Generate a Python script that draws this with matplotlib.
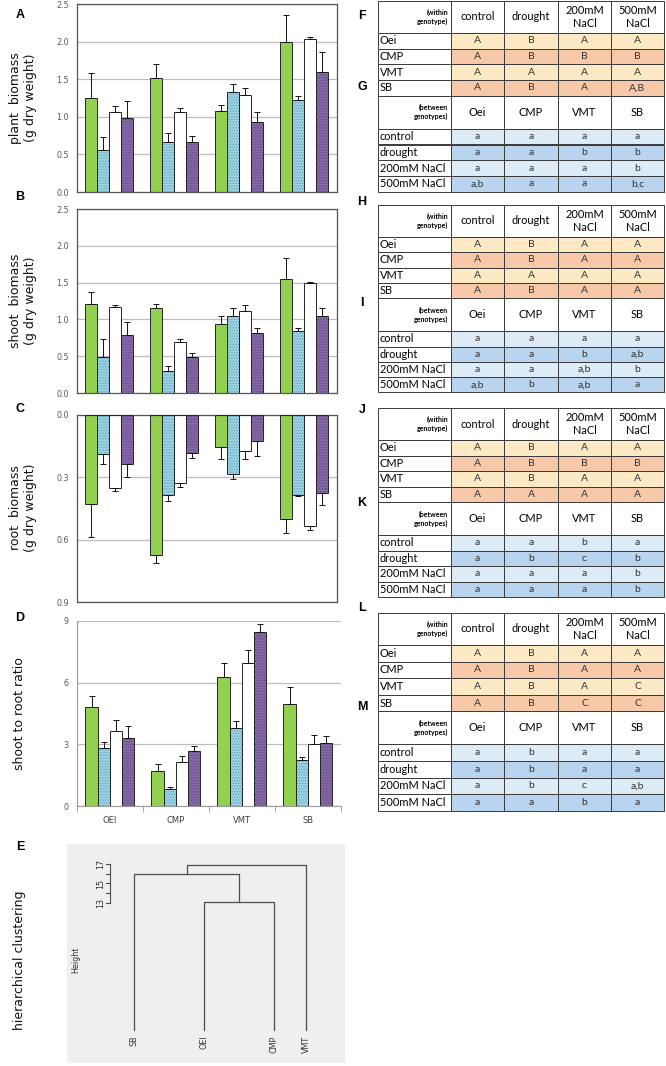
import numpy as np
import matplotlib
matplotlib.use("Agg")
import matplotlib.pyplot as plt
from matplotlib.patches import Rectangle

W, H = 666, 1066

genotypes = ["OEI", "CMP", "VMT", "SB"]
treatments = ["control", "drought", "200mM NaCl", "500mM NaCl"]

# rows = treatment (control, drought, 200mM, 500mM), cols = genotype
plant_mean = [[1.25, 1.52, 1.08, 2.00],
              [0.56, 0.67, 1.33, 1.23],
              [1.06, 1.07, 1.29, 2.03],
              [0.99, 0.67, 0.93, 1.60]]
plant_err = [[0.33, 0.18, 0.08, 0.35],
             [0.17, 0.11, 0.11, 0.04],
             [0.08, 0.05, 0.09, 0.03],
             [0.22, 0.07, 0.13, 0.26]]

shoot_mean = [[1.21, 1.16, 0.94, 1.55],
              [0.49, 0.30, 1.05, 0.84],
              [1.17, 0.69, 1.11, 1.49],
              [0.79, 0.49, 0.82, 1.05]]
shoot_err = [[0.16, 0.05, 0.10, 0.28],
             [0.25, 0.07, 0.10, 0.04],
             [0.03, 0.04, 0.08, 0.02],
             [0.17, 0.06, 0.06, 0.11]]

root_mean = [[0.430, 0.675, 0.152, 0.500],
             [0.189, 0.387, 0.283, 0.384],
             [0.352, 0.328, 0.173, 0.536],
             [0.235, 0.182, 0.123, 0.373]]
root_err = [[0.155, 0.037, 0.058, 0.070],
            [0.049, 0.026, 0.026, 0.005],
            [0.016, 0.019, 0.037, 0.016],
            [0.061, 0.026, 0.075, 0.062]]

ratio_mean = [[4.81, 1.69, 6.26, 4.98],
              [2.84, 0.81, 3.79, 2.25],
              [3.65, 2.14, 6.95, 3.00],
              [3.32, 2.66, 8.48, 3.08]]
ratio_err = [[0.56, 0.37, 0.68, 0.83],
             [0.27, 0.11, 0.34, 0.13],
             [0.51, 0.29, 0.63, 0.45],
             [0.58, 0.26, 0.36, 0.33]]

# dendrogram
dendro_leaves = ["SB", "OEI", "CMP", "VMT"]
dendro_merges = [("OEI", "CMP", 13.1),
                 ("SB", "OEI+CMP", 16.0),
                 ("SB+OEI+CMP", "VMT", 16.9)]

# significance tables
within_rows = ["Oei", "CMP", "VMT", "SB"]
within_cols = ["control", "drought", "200mM\nNaCl", "500mM\nNaCl"]
between_rows = ["control", "drought", "200mM NaCl", "500mM NaCl"]
between_cols = ["Oei", "CMP", "VMT", "SB"]

table_F = [["A", "B", "A", "A"], ["A", "B", "B", "B"], ["A", "A", "A", "A"], ["A", "B", "A", "A,B"]]
table_G = [["a", "a", "a", "a"], ["a", "a", "b", "b"], ["a", "a", "a", "b"], ["a,b", "a", "a", "b,c"]]
table_H = [["A", "B", "A", "A"], ["A", "B", "A", "A"], ["A", "A", "A", "A"], ["A", "B", "A", "A"]]
table_I = [["a", "a", "a", "a"], ["a", "a", "b", "a,b"], ["a", "a", "a,b", "b"], ["a,b", "b", "a,b", "a"]]
table_J = [["A", "B", "A", "A"], ["A", "B", "B", "B"], ["A", "B", "A", "A"], ["A", "A", "A", "A"]]
table_K = [["a", "a", "b", "a"], ["a", "b", "c", "b"], ["a", "a", "a", "b"], ["a", "a", "a", "b"]]
table_L = [["A", "B", "A", "A"], ["A", "B", "A", "A"], ["A", "B", "A", "C"], ["A", "B", "C", "C"]]
table_M = [["a", "b", "a", "a"], ["a", "b", "a", "a"], ["a", "b", "c", "a,b"], ["a", "a", "b", "a"]]

# ---- styles ----
bar_faces = ["#92d050", "#9dd3e2", "#ffffff", "#8569a6"]
bar_hatches = [None, "......", None, "......"]
bar_hatch_colors = ["#92d050", "#5a9fb8", "#ffffff", "#5f4682"]
within_colors = ["#fde9c4", "#f8c9a8", "#fde9c4", "#f8c9a8"]
between_colors = ["#ddebf7", "#b9d4ee", "#ddebf7", "#b9d4ee"]

plt.rcParams["hatch.linewidth"] = 0.6
plt.rcParams["font.family"] = ["DejaVu Sans"]

fig = plt.figure(figsize=(W / 100, H / 100), dpi=100)


def px_rect(l, t, r, b):
    return [l / W, 1 - b / H, (r - l) / W, (b - t) / H]


bar_w = 0.185
offsets = [-0.28, -0.095, 0.09, 0.275]


def bar_panel(rect, means, errs, ylim, yticks, labels, boxed=True):
    ax = fig.add_axes(px_rect(*rect))
    x = np.arange(len(genotypes)) + 0.5
    for i in range(len(treatments)):
        xs = x + offsets[i]
        m = np.array(means[i])
        ax.bar(xs, m, bar_w, color=bar_faces[i], hatch=bar_hatches[i],
               edgecolor=bar_hatch_colors[i], linewidth=0, zorder=2)
        ax.bar(xs, m, bar_w, fill=False, edgecolor="#262626", linewidth=0.7, zorder=3)
        ax.errorbar(xs, m, yerr=[np.zeros(len(m)), errs[i]], fmt="none",
                    ecolor="#111111", elinewidth=0.7, capsize=2, capthick=0.7, zorder=4)
    ax.set_xlim(0, len(genotypes))
    ax.set_ylim(*ylim)
    ax.set_yticks(yticks)
    ax.set_yticklabels(labels)
    ax.tick_params(axis="y", length=0, pad=6, labelsize=5.8, labelcolor="#595959")
    ax.grid(axis="y", color="#bdbdbd", linewidth=0.9, zorder=0)
    ax.set_axisbelow(True)
    if boxed:
        ax.set_xticks([])
        for s in ax.spines.values():
            s.set_color("#555555")
            s.set_linewidth(0.9)
    else:
        ax.spines["top"].set_visible(False)
        ax.spines["right"].set_visible(False)
        ax.spines["left"].set_color("#999999")
        ax.spines["bottom"].set_color("#999999")
        ax.set_xticks(x)
        ax.set_xticklabels(genotypes)
        ax.set_xticks(np.arange(len(genotypes) + 1), minor=True)
        ax.tick_params(axis="x", which="major", length=0, pad=7, labelsize=6, labelcolor="#404040")
        ax.tick_params(axis="x", which="minor", length=4, color="#999999", direction="out")
    return ax


bar_panel((77, 4, 337, 192), plant_mean, plant_err, (0, 2.5),
          [0, 0.5, 1.0, 1.5, 2.0, 2.5], ["0.0", "0.5", "1.0", "1.5", "2.0", "2.5"])
bar_panel((77, 209, 337, 393), shoot_mean, shoot_err, (0, 2.5),
          [0, 0.5, 1.0, 1.5, 2.0, 2.5], ["0.0", "0.5", "1.0", "1.5", "2.0", "2.5"])
bar_panel((77, 415, 337, 602), root_mean, root_err, (0.9, 0),
          [0, 0.3, 0.6, 0.9], ["0.0", "0.3", "0.6", "0.9"])
bar_panel((77, 621, 341, 806), ratio_mean, ratio_err, (0, 9),
          [0, 3, 6, 9], ["0", "3", "6", "9"], boxed=False)

# ---- dendrogram (E) ----
dx = fig.add_axes(px_rect(67, 844, 345, 1063))
dx.set_facecolor("#efefef")
for s in dx.spines.values():
    s.set_visible(False)
dx.set_xticks([])
dx.set_yticks([])
dx.set_xlim(0.043, 4.014)
dx.set_ylim(-3.41, 19.05)
leaf_x = [1, 2, 3, 3.46]
node_x = dict(zip(dendro_leaves, leaf_x))
node_h = {name: 0.0 for name in dendro_leaves}
lc = "#4d4d4d"
for left, right, h in dendro_merges:
    xl, xr = node_x[left], node_x[right]
    dx.plot([xl, xl, xr, xr], [node_h[left], h, h, node_h[right]], color=lc, lw=0.9)
    name = left + "+" + right
    node_x[name] = (xl + xr) / 2
    node_h[name] = h
for name, xv in zip(dendro_leaves, leaf_x):
    dx.text(xv, -0.6, name, rotation=90, ha="center", va="top", fontsize=5.8, color="#333333")
ax_x = 0.657
dx.plot([ax_x, ax_x], [13, 17], color=lc, lw=0.8)
for t in range(13, 18):
    dx.plot([ax_x - 0.06, ax_x], [t, t], color=lc, lw=0.8)
for t in (13, 15, 17):
    dx.text(ax_x - 0.14, t, str(t), rotation=90, ha="center", va="center", fontsize=5.8, color="#333333")
dx.text(0.17, 7.15, "Height", rotation=90, ha="center", va="center", fontsize=5.8, color="#333333")

# ---- overlay for tables and labels ----
ov = fig.add_axes([0, 0, 1, 1])
ov.set_xlim(0, W)
ov.set_ylim(H, 0)
ov.axis("off")

col_edges = [378, 451, 504, 558, 611, 664]
tfont = "Lato"
line_c = "#3a3a3a"


def cell(x0, y0, x1, y1, color):
    ov.add_patch(Rectangle((x0, y0), x1 - x0, y1 - y0, facecolor=color,
                           edgecolor=line_c, linewidth=0.7))


def draw_table(top, header_h, row_h, corner, col_names, row_names, cells, colors):
    y = top
    cell(col_edges[0], y, col_edges[1], y + header_h, "white")
    ov.text(col_edges[1] - 3, y + header_h / 2, corner, ha="right", va="center",
            fontsize=5, fontweight="bold", family=tfont, linespacing=1.3)
    for j, name in enumerate(col_names):
        cell(col_edges[j + 1], y, col_edges[j + 2], y + header_h, "white")
        ov.text((col_edges[j + 1] + col_edges[j + 2]) / 2, y + header_h / 2, name,
                ha="center", va="center", fontsize=7.9, family=tfont, linespacing=1.2)
    y += header_h
    for i, rname in enumerate(row_names):
        cell(col_edges[0], y, col_edges[1], y + row_h, "white")
        ov.text(col_edges[0] + 2, y + row_h / 2, rname, ha="left", va="center",
                fontsize=7.9, family=tfont)
        for j, val in enumerate(cells[i]):
            cell(col_edges[j + 1], y, col_edges[j + 2], y + row_h, colors[i])
            ov.text((col_edges[j + 1] + col_edges[j + 2]) / 2, y + row_h / 2, val,
                    ha="center", va="center", fontsize=7.5, family=tfont, color="#333333")
        y += row_h
    return y


blocks = [(1, 15.7, table_F, table_G), (205, 15.3, table_H, table_I),
          (408, 15.5, table_J, table_K), (613, 16.6, table_L, table_M)]
for top, rh, tw, tb in blocks:
    y = draw_table(top, 32, rh, "(within\ngenotype)", within_cols, within_rows, tw, within_colors)
    draw_table(y, 33, rh, "(between\ngenotypes)", between_cols, between_rows, tb, between_colors)

panel_letters = [("A", 20, 15), ("B", 20, 197), ("C", 20, 409), ("D", 20, 618), ("E", 20, 847),
                 ("F", 362, 16), ("G", 362, 87), ("H", 362, 202), ("I", 362, 303),
                 ("J", 362, 410), ("K", 362, 503), ("L", 362, 608), ("M", 362, 707)]
for letter, lx, ly in panel_letters:
    ov.text(lx, ly, letter, ha="center", va="center", fontsize=9, fontweight="bold",
            family="Liberation Sans")

ylabels = [("plant  biomass\n(g dry weight)", 23, 98),
           ("shoot  biomass\n(g dry weight)", 23, 301),
           ("root  biomass\n(g dry weight)", 23, 508),
           ("shoot to root ratio", 20, 714),
           ("hierarchical clustering", 20, 960)]
for txt, lx, ly in ylabels:
    ov.text(lx, ly, txt, rotation=90, ha="center", va="center", fontsize=9,
            linespacing=1.2, color="#111111")

fig.savefig("out.png", dpi=100)
